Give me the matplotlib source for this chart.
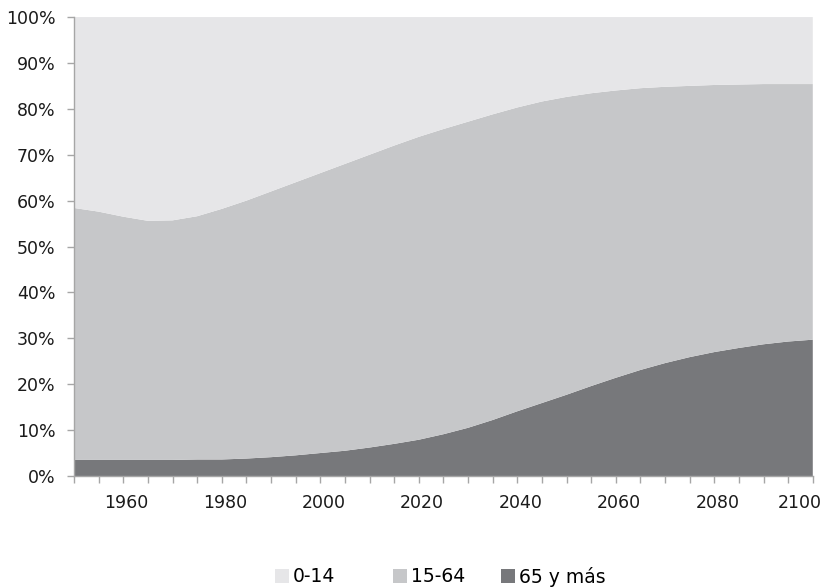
import numpy as np
import matplotlib.pyplot as plt
import matplotlib.transforms as mtransforms
from matplotlib.patches import Patch
from matplotlib.ticker import MultipleLocator, FuncFormatter

plt.rcParams['font.family'] = ['DejaVu Sans']

years = list(range(1950, 2101, 5))
# share of population by age group, %
pct_65 = [3.5, 3.5, 3.5, 3.5, 3.5, 3.6, 3.6, 3.8, 4.1, 4.5, 5.0, 5.5, 6.2, 7.0, 7.9, 9.1,
          10.5, 12.2, 14.1, 15.9, 17.7, 19.6, 21.4, 23.1, 24.6, 25.9, 27.0, 27.9, 28.7, 29.3, 29.7]
pct_15_64 = [54.9, 54.1, 53.0, 52.1, 52.2, 53.0, 54.6, 56.2, 57.9, 59.5, 61.0, 62.5, 63.8, 65.0,
             66.0, 66.5, 66.7, 66.6, 66.2, 65.7, 64.9, 63.8, 62.6, 61.4, 60.2, 59.1, 58.2, 57.4,
             56.7, 56.1, 55.7]
pct_0_14 = [41.6, 42.4, 43.5, 44.4, 44.3, 43.4, 41.8, 40.0, 38.0, 36.0, 34.0, 32.0, 30.0, 28.0,
            26.1, 24.4, 22.8, 21.2, 19.7, 18.4, 17.4, 16.6, 16.0, 15.5, 15.2, 15.0, 14.8, 14.7,
            14.6, 14.6, 14.6]
labels = ['0-14', '15-64', '65 y más']
colors = ['#e6e6e8', '#c6c7c9', '#77787b']

fig = plt.figure(figsize=(8.26, 5.88), dpi=100)
ax = fig.add_axes([0.0896, 0.1905, 0.8944, 0.7805])

ax.stackplot(years, pct_65, pct_15_64, pct_0_14,
             colors=[colors[2], colors[1], colors[0]], linewidth=0)

ax.set_xlim(1950, 2100)
ax.set_ylim(0, 100)
ax.xaxis.set_minor_locator(MultipleLocator(5))
ax.set_xticks([1960, 1980, 2000, 2020, 2040, 2060, 2080, 2100])
ax.yaxis.set_major_locator(MultipleLocator(10))
ax.yaxis.set_major_formatter(FuncFormatter(lambda v, p: '%d%%' % v))

for s in ['top', 'right']:
    ax.spines[s].set_visible(False)
for s in ['left', 'bottom']:
    ax.spines[s].set_color('#a6a6a6')
    ax.spines[s].set_linewidth(1.0)

ax.tick_params(axis='both', which='both', color='#a6a6a6', length=5, width=1,
               labelsize=12.5, labelcolor='#1a1a1a')
ax.tick_params(axis='x', which='major', pad=8)
ax.tick_params(axis='y', pad=8.5)

# nudge x labels a bit to the right, keep the last one inside the figure
fig.canvas.draw()
xlabels = ax.get_xticklabels()
for i, lab in enumerate(xlabels):
    dx = 3 if i < len(xlabels) - 1 else -13
    lab.set_transform(lab.get_transform() +
                      mtransforms.ScaledTranslation(dx / 100, 0, fig.dpi_scale_trans))

# legend entries placed one by one
leg_x = [0.333, 0.476, 0.607]
for x, c, lab in zip(leg_x, colors, labels):
    leg = fig.legend([Patch(facecolor=c, edgecolor='none')], [lab], loc='center left',
                     bbox_to_anchor=(x, 0.019), frameon=False, fontsize=13.5,
                     handlelength=0.75, handleheight=0.75, handletextpad=0.2,
                     borderpad=0, borderaxespad=0)

fig.savefig('out.png', dpi=100)
